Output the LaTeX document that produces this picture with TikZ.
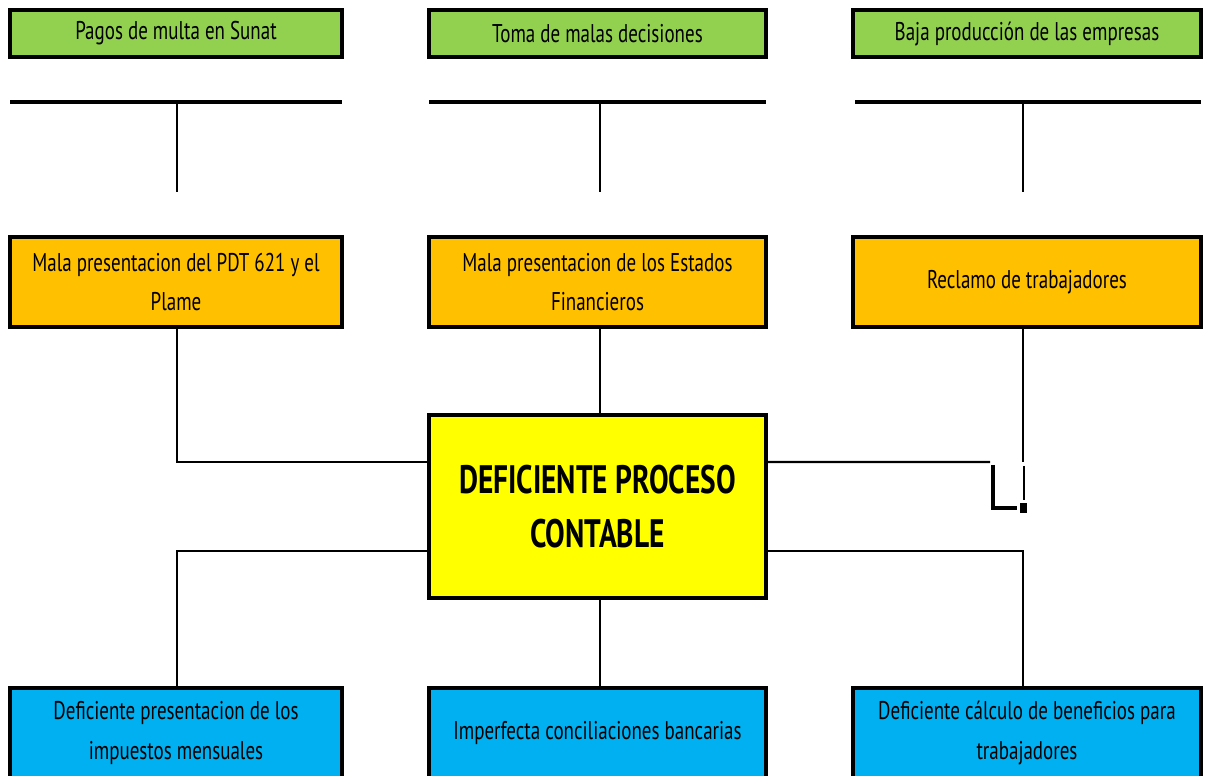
\documentclass[tikz,border=0pt]{standalone}
\usepackage{fontspec}
\setmainfont{PT Sans}[FakeStretch=0.74]
\usepackage{tikz}
\usetikzlibrary{calc}

\begin{document}
\begin{tikzpicture}[
   x=0.02cm,y=-0.02cm,
   every node/.style={align=center,inner sep=0pt,outer sep=0pt,font=\fontsize{14.6}{22.5}\selectfont},
   box/.style={draw,line width=2pt,minimum height=1.8cm},
   efecto/.style={box,fill=efectoc,minimum height=0.94cm},
   causa/.style={box,fill=causac},
   raiz/.style={box,fill=raizc},
   centro/.style={box,fill=centroc,minimum width=6.74cm,minimum height=3.66cm,
      font=\fontsize{22.6}{31}\selectfont\bfseries},
   to/.style={line width=1.4pt},
   bar/.style={line width=2pt}]
\definecolor{efectoc}{HTML}{92D050}
\definecolor{causac}{HTML}{FFC000}
\definecolor{raizc}{HTML}{00B0F0}
\definecolor{centroc}{HTML}{FFFF00}
\useasboundingbox (0,0) rectangle (1208,776);
% efectos
\node[efecto,minimum width=6.64cm] (E1) at (176,33.5) {Pagos de multa en Sunat};
\node[efecto,minimum width=6.74cm] (E2) at (597.5,33.5) {Toma de malas decisiones};
\node[efecto,minimum width=6.96cm] (E3) at (1027,33.5) {Baja producción de las empresas};
% barras
\coordinate (B1l) at (10,102); \coordinate (B1r) at (342,102); \coordinate (B1b) at (177,192);
\coordinate (B2l) at (429,102); \coordinate (B2r) at (766,102); \coordinate (B2b) at (600,192);
\coordinate (B3l) at (855,102); \coordinate (B3r) at (1201,102); \coordinate (B3b) at (1023,192);
\draw[bar] (B1l) -- (B1r); \draw[to] (B1b) -- (B1b |- B1l);
\draw[bar] (B2l) -- (B2r); \draw[to] (B2b) -- (B2b |- B2l);
\draw[bar] (B3l) -- (B3r); \draw[to] (B3b) -- (B3b |- B3l);
% causas
\node[causa,minimum width=6.64cm] (O1) at (176,282) {Mala presentacion del PDT 621 y el\\Plame};
\node[causa,minimum width=6.74cm] (O2) at (597.5,282) {Mala presentacion de los Estados\\Financieros};
\node[causa,minimum width=6.96cm] (O3) at (1027,282) {Reclamo de trabajadores};
% problema
\node[centro] (C) at (597.5,506.5) {DEFICIENTE PROCESO\\CONTABLE};
% raices
\node[raiz,minimum width=6.64cm] (R1) at (176,733) {Deficiente presentacion de los\\impuestos mensuales};
\node[raiz,minimum width=6.74cm] (R2) at (597.5,733) {Imperfecta conciliaciones bancarias};
\node[raiz,minimum width=6.96cm] (R3) at (1027,733) {Deficiente cálculo de beneficios para\\trabajadores};
% conectores
\coordinate (K) at (1023,462);
\coordinate (Ke) at (990,462);
\draw[to] (O1.south -| B1b) |- ([yshift=0.89cm]C.west);
\draw[to] (O2.south -| B2b) -- (C.north -| B2b);
\draw[to] (O3.south -| K) -- (K);
\draw[to] ([yshift=0.89cm]C.east) -- (Ke);
\draw[line width=2.4pt] (993,465) |- (1017,508);
\draw[line width=1.5pt] (1024,466) -- (1024,500);
\fill (1020,503) rectangle (1027,513);
\draw[to] ([yshift=-0.89cm]C.west) -| (R1.north -| B1b);
\draw[to] (C.south -| B2b) -- (R2.north -| B2b);
\draw[to] ([yshift=-0.89cm]C.east) -| (R3.north -| B3b);
\end{tikzpicture}
\end{document}
